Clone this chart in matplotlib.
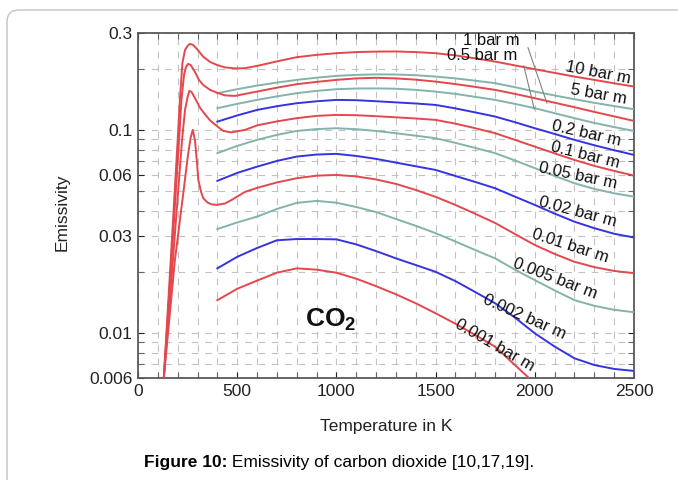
import matplotlib
matplotlib.use("Agg")
import matplotlib.pyplot as plt
from matplotlib.ticker import FixedLocator, FixedFormatter, NullFormatter
from matplotlib.patches import FancyBboxPatch
from matplotlib.transforms import IdentityTransform

plt.rcParams['font.family'] = ['Liberation Sans', 'DejaVu Sans']
plt.rcParams['mathtext.fontset'] = 'custom'
plt.rcParams['mathtext.rm'] = 'Liberation Sans'
plt.rcParams['mathtext.bf'] = 'Liberation Sans:bold'

# ---------------- data (temperature in K, emissivity) ----------------
T_10 = [130, 165, 200, 212, 224, 237, 250, 262, 277, 297, 328, 363, 397, 438, 489, 539, 600, 700, 800,
        900, 1000, 1100, 1200, 1300, 1400, 1500, 1600, 1700, 1800, 1900, 2000, 2100, 2200, 2300, 2400, 2500]
E_10 = [0.006, 0.02288, 0.08925, 0.1454, 0.2138, 0.2477, 0.2592, 0.2652, 0.2622, 0.2505, 0.2296, 0.2162,
        0.2090, 0.2031, 0.2008, 0.2013, 0.2066, 0.2174, 0.2280, 0.2341, 0.2386, 0.2416, 0.2430, 0.2433,
        0.2416, 0.2386, 0.2327, 0.2250, 0.2169, 0.2078, 0.1990, 0.1908, 0.1830, 0.1763, 0.1696, 0.1634]

T_1 = [130, 169, 207, 219, 232, 242, 252, 265, 287, 307, 328, 363, 397, 438, 489, 539, 600, 700, 800,
       900, 1000, 1100, 1200, 1300, 1400, 1500, 1600, 1700, 1800, 1900, 2000, 2100, 2200, 2300, 2400, 2500]
E_1 = [0.006, 0.02288, 0.08925, 0.1405, 0.1866, 0.2043, 0.2113, 0.2090, 0.1930, 0.1763, 0.1666, 0.1574,
       0.1526, 0.1479, 0.1470, 0.1504, 0.1544, 0.1614, 0.1679, 0.1723, 0.1763, 0.1793, 0.1805, 0.1793,
       0.1767, 0.1729, 0.1681, 0.1628, 0.1574, 0.1504, 0.1432, 0.1361, 0.1293, 0.1226, 0.1165, 0.1107]

T_01 = [130, 176, 222, 237, 250, 259, 270, 292, 313, 338, 363, 397, 430, 470, 539, 600, 700, 800, 900,
        1000, 1100, 1200, 1300, 1400, 1500, 1600, 1700, 1800, 1900, 2000, 2100, 2200, 2300, 2400, 2500]
E_01 = [0.006, 0.02288, 0.08925, 0.1254, 0.1454, 0.1556, 0.1538, 0.1405, 0.1283, 0.1192, 0.1114, 0.1046,
        0.0988, 0.0972, 0.1000, 0.1052, 0.1101, 0.1142, 0.1172, 0.1185, 0.1181, 0.1168, 0.1153, 0.1138,
        0.1120, 0.1073, 0.1019, 0.0963, 0.0893, 0.0827, 0.0766, 0.0711, 0.0665, 0.0628, 0.0595]

T_001 = [130, 186, 224, 252, 265, 276, 287, 297, 304, 318, 329, 350, 371, 397, 438, 472, 539, 600, 700,
         800, 900, 1000, 1100, 1200, 1300, 1400, 1500, 1600, 1700, 1800, 1900, 2000, 2100, 2200, 2300, 2400, 2500]
E_001 = [0.006, 0.02288, 0.04519, 0.0753, 0.0913, 0.1000, 0.0893, 0.0695, 0.0567, 0.0495, 0.0461, 0.0439,
         0.0430, 0.0427, 0.0434, 0.0452, 0.0495, 0.0518, 0.0551, 0.0578, 0.0595, 0.0600, 0.0590, 0.0570,
         0.0542, 0.0506, 0.0468, 0.0427, 0.0386, 0.0348, 0.0307, 0.0271, 0.0245, 0.0224, 0.0211, 0.0202, 0.0197]

T_hi = [400, 500, 600, 700, 800, 900, 1000, 1100, 1200, 1300, 1400, 1500, 1600, 1700, 1800, 1900, 2000,
        2100, 2200, 2300, 2400, 2500]
E_5 = [0.1516, 0.1586, 0.1652, 0.1710, 0.1763, 0.1807, 0.1845, 0.1866, 0.1876, 0.1874, 0.1859, 0.1830,
       0.1793, 0.1747, 0.1698, 0.1623, 0.1544, 0.1477, 0.1416, 0.1359, 0.1310, 0.1264]
E_05 = [0.1279, 0.1343, 0.1405, 0.1462, 0.1516, 0.1556, 0.1586, 0.1599, 0.1601, 0.1595, 0.1574, 0.1544,
        0.1504, 0.1454, 0.1405, 0.1343, 0.1279, 0.1208, 0.1142, 0.1082, 0.1032, 0.0988]
E_02 = [0.1098, 0.1178, 0.1254, 0.1308, 0.1353, 0.1383, 0.1405, 0.1400, 0.1384, 0.1366, 0.1349, 0.1327,
        0.1276, 0.1219, 0.1163, 0.1091, 0.1019, 0.0955, 0.0893, 0.0840, 0.0794, 0.0753]
E_005 = [0.0768, 0.0834, 0.0893, 0.0945, 0.0988, 0.1009, 0.1019, 0.1008, 0.0988, 0.0963, 0.0936, 0.0910,
         0.0863, 0.0815, 0.0768, 0.0707, 0.0648, 0.0593, 0.0546, 0.0512, 0.0487, 0.0469]
E_002 = [0.0561, 0.0614, 0.0659, 0.0703, 0.0739, 0.0756, 0.0762, 0.0744, 0.0720, 0.0690, 0.0662, 0.0635,
         0.0593, 0.0554, 0.0516, 0.0469, 0.0427, 0.0387, 0.0353, 0.0328, 0.0308, 0.0295]
E_0005 = [0.0325, 0.0350, 0.0374, 0.0408, 0.0437, 0.0447, 0.0438, 0.0417, 0.0394, 0.0364, 0.0337, 0.0310,
          0.0282, 0.0256, 0.0233, 0.0205, 0.0182, 0.0162, 0.0145, 0.0136, 0.0130, 0.01265]
E_0002 = [0.0208, 0.0237, 0.0262, 0.0286, 0.0290, 0.0290, 0.0289, 0.0273, 0.0253, 0.0233, 0.0216, 0.0200,
          0.0180, 0.0159, 0.0140, 0.0119, 0.00996, 0.00857, 0.00750, 0.00695, 0.00665, 0.00650]

T_0001 = [400, 500, 600, 700, 800, 900, 1000, 1100, 1200, 1300, 1400, 1500, 1600, 1700, 1800, 1900, 2000]
E_0001 = [0.0145, 0.0165, 0.0181, 0.0198, 0.0208, 0.0205, 0.0198, 0.0185, 0.0170, 0.0155, 0.0140, 0.0125,
          0.0111, 0.00977, 0.00855, 0.00695, 0.00564]

x_ticks = [0, 500, 1000, 1500, 2000, 2500]
y_ticks = [0.006, 0.01, 0.03, 0.06, 0.1, 0.3]
y_tick_labels = ['0.006', '0.01', '0.03', '0.06', '0.1', '0.3']
y_minor = [0.007, 0.008, 0.009, 0.02, 0.04, 0.05, 0.07, 0.08, 0.09, 0.2]

labels = ['10 bar m', '5 bar m', '1 bar m', '0.5 bar m', '0.2 bar m', '0.1 bar m',
          '0.05 bar m', '0.02 bar m', '0.01 bar m', '0.005 bar m', '0.002 bar m', '0.001 bar m']

RED = '#e4474c'
TEAL = '#83b3aa'
BLUE = '#3434e2'

series = [
    (T_10, E_10, RED), (T_hi, E_5, TEAL), (T_1, E_1, RED), (T_hi, E_05, TEAL),
    (T_hi, E_02, BLUE), (T_01, E_01, RED), (T_hi, E_005, TEAL), (T_hi, E_002, BLUE),
    (T_001, E_001, RED), (T_hi, E_0005, TEAL), (T_hi, E_0002, BLUE), (T_0001, E_0001, RED),
]

# label placement (T, E, rotation)
label_pos = [
    (2318, 0.191, -11), (2323, 0.150, -10), (1779, 0.274, 0), (1734, 0.2314, 0),
    (2258, 0.0955, -13), (2253, 0.0753, -14), (2218, 0.0593, -12), (2218, 0.0394, -15),
    (2177, 0.0268, -18), (2102, 0.01845, -21), (1946, 0.0120, -24), (1796, 0.00872, -30),
]

# ---------------- figure ----------------
W, H = 678, 480
fig = plt.figure(figsize=(W / 100, H / 100), dpi=100)

border = FancyBboxPatch((7, -30), 720, 500, boxstyle="round,pad=0,rounding_size=12",
                        transform=IdentityTransform(), facecolor='white',
                        edgecolor='#c4c4c4', lw=1.0, zorder=-10)
fig.patches.append(border)

ax = fig.add_axes([138 / W, 1 - 378 / H, (634 - 138) / W, (378 - 33) / H])
ax.set_yscale('log')
ax.set_xlim(0, 2500)
ax.set_ylim(0.006, 0.3)

for T, E, c in series:
    ax.plot(T, E, color=c, lw=1.4, zorder=3, solid_joinstyle='round')

ax.xaxis.set_major_locator(FixedLocator(x_ticks))
ax.xaxis.set_minor_locator(FixedLocator(list(range(0, 2501, 100))))
ax.yaxis.set_major_locator(FixedLocator(y_ticks))
ax.yaxis.set_major_formatter(FixedFormatter(y_tick_labels))
ax.yaxis.set_minor_locator(FixedLocator(y_minor))
ax.yaxis.set_minor_formatter(NullFormatter())

ax.grid(True, which='both', color='#c2c2c2', lw=0.8, ls=(0, (6, 6)), zorder=0)
ax.set_axisbelow(True)

ax.tick_params(which='both', direction='in', top=True, right=True, length=4,
               width=0.8, color='#666666')
ax.tick_params(which='major', labelsize=12.5, colors='#222222', pad=4)
for s in ax.spines.values():
    s.set_color('#5a5a5a')
    s.set_linewidth(1.3)

for (tx, ey, rot), lab in zip(label_pos, labels):
    ax.text(tx, ey, lab, fontsize=12, rotation=rot, rotation_mode='anchor',
            ha='center', va='center', color='#111111', zorder=5)

# leader lines for 1 bar m and 0.5 bar m
ax.annotate('', xy=(2066, 0.1312), xytext=(1961, 0.262),
            arrowprops=dict(arrowstyle='-', color='#808080', lw=0.8))
ax.annotate('', xy=(2001, 0.1226), xytext=(1941, 0.2137),
            arrowprops=dict(arrowstyle='-', color='#808080', lw=0.8))

ax.text(0.337, 0.148, r'$\mathbf{CO}_{\mathbf{2}}$', transform=ax.transAxes,
        fontsize=19, ha='left', va='baseline', color='#111111')

fig.text(386 / W, 1 - 427 / H, 'Temperature in K', fontsize=12.5,
         ha='center', va='center', color='#222222')
fig.text(62 / W, 1 - 212 / H, 'Emissivity', fontsize=12.5, rotation=90,
         ha='center', va='center', color='#222222')

# caption
r = fig.canvas.get_renderer()
t1 = fig.text(0, 1 - 463 / H, 'Figure 10:', fontsize=12.5, weight='bold', va='center')
t2 = fig.text(0, 1 - 463 / H, ' Emissivity of carbon dioxide [10,17,19].', fontsize=12.5, va='center')
w1 = t1.get_window_extent(r).width
w2 = t2.get_window_extent(r).width
x0 = 339 - (w1 + w2) / 2
t1.set_x(x0 / W)
t2.set_x((x0 + w1) / W)

fig.savefig('out.png', dpi=100)
